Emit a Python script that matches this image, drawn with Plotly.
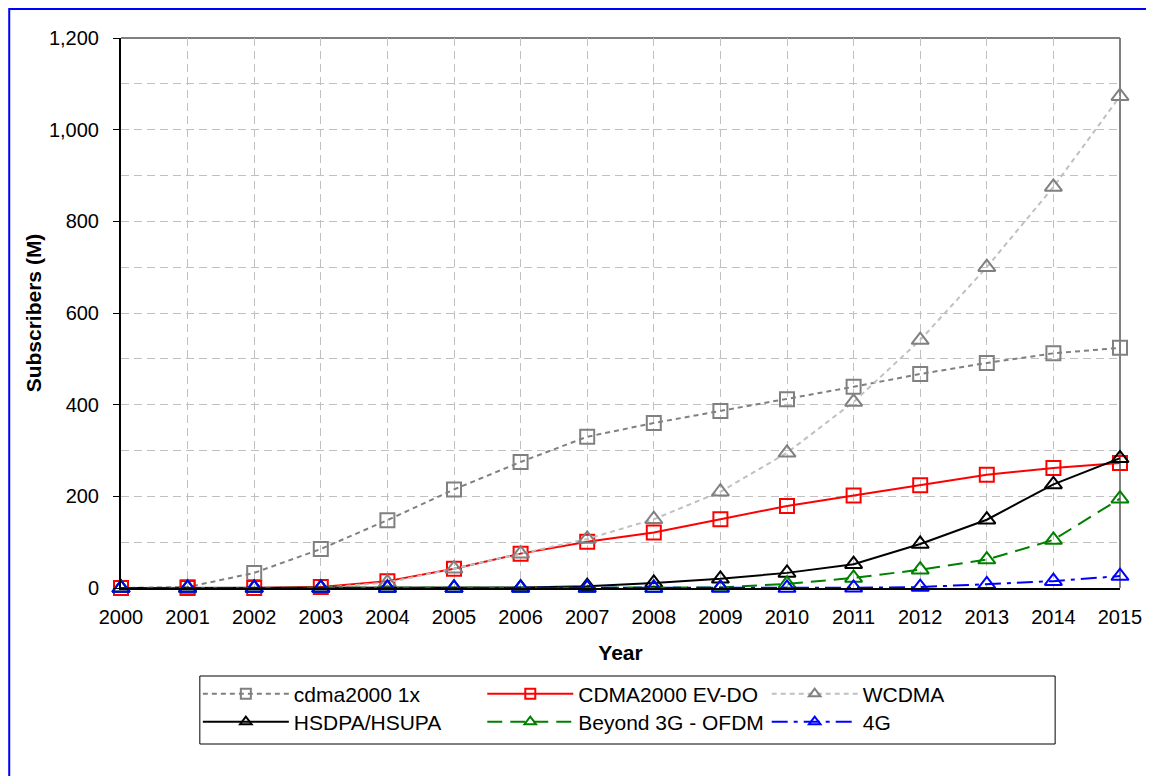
import plotly.graph_objects as go

years = list(range(2000, 2016))
cdma_1x = [0, 2, 33, 85, 148, 215, 275, 330, 360, 386, 412, 439, 467, 491, 512, 524]
cdma_evdo = [0, 0, 0, 2, 15, 42, 75, 101, 121, 150, 179, 202, 224, 247, 262, 273]
wcdma = [0, 0, 0, 0, 12, 42, 75, 107, 150, 210, 295, 406, 541, 700, 875, 1073]
hsdpa = [0, 0, 0, 0, 0, 0, 1, 4, 11, 20, 33, 52, 96, 149, 226, 283]
beyond3g = [0, 0, 0, 0, 0, 0, 0, 0, 0, 1, 9, 22, 40, 62, 105, 195]
g4 = [0, 0, 0, 0, 0, 0, 0, 0, 0, 0, 0, 0.5, 2, 8, 15, 26]

names = ["cdma2000 1x", "CDMA2000 EV-DO", "WCDMA", "HSDPA/HSUPA", "Beyond 3G - OFDM", "4G"]
series = [cdma_1x, cdma_evdo, wcdma, hsdpa, beyond3g, g4]
line_colors = ["#808080", "#FF0000", "#C0C0C0", "#000000", "#008000", "#0000FF"]
marker_colors = ["#808080", "#FF0000", "#808080", "#000000", "#008000", "#0000FF"]
dashes = ["5px,4px", "solid", "5px,4px", "solid", "15px,8px", "16px,6px,4px,6px"]
symbols = ["square-open", "square-open", "triangle-up-open", "triangle-up-open",
           "triangle-up-open", "triangle-up-open"]
msizes = [14, 14, 15, 15, 15, 15]

FONT = "Liberation Sans, Arial, sans-serif"

# page geometry (the page body has an 8px margin)
OFF = 8
L, R, T, B = 121, 1122, 38, 588
pw, ph = R - L, B - T
FW, FH = 1154 - OFF, 776 - OFF


def px_x(p):
    return (p - L) / pw


def px_y(p):
    return (B - p) / ph


fig = go.Figure()
for name, vals, lc, mc, d, s, ms in zip(names, series, line_colors, marker_colors, dashes, symbols, msizes):
    fig.add_trace(go.Scatter(
        x=years, y=vals, name=name, mode="lines+markers", showlegend=False,
        line=dict(color=lc, width=2, dash=d),
        marker=dict(symbol=s, size=ms, color=mc, line=dict(color=mc, width=2)),
        cliponaxis=False,
    ))

# legend entries (one legend per entry, placed in a 3x2 grid)
leg_ids = ["legend", "legend2", "legend3", "legend4", "legend5", "legend6"]
text_x = [293, 578, 863, 293, 578, 863]
row_y = [694, 694, 694, 722, 722, 722]
ITEMW = 86
legends = {}
for i, (name, lc, mc, d, s) in enumerate(zip(names, line_colors, marker_colors, dashes, symbols)):
    fig.add_trace(go.Scatter(
        x=[None], y=[None], name=name, mode="lines+markers", legend=leg_ids[i],
        line=dict(color=lc, width=2, dash=d),
        marker=dict(symbol=s, size=10, color=mc, line=dict(color=mc, width=2)),
    ))
    legends[leg_ids[i]] = dict(
        x=px_x(text_x[i] - ITEMW - 9), y=px_y(row_y[i]), xanchor="left", yanchor="middle",
        bgcolor="rgba(0,0,0,0)", borderwidth=0, itemwidth=ITEMW,
        font=dict(family=FONT, size=21, color="black"),
    )

GRID = "#C0C0C0"
fig.update_layout(
    width=FW, height=FH,
    margin=dict(l=L - OFF, r=FW - (R - OFF), t=T - OFF, b=FH - (B - OFF)),
    paper_bgcolor="white", plot_bgcolor="white",
    font=dict(family=FONT, size=20, color="black"),
    showlegend=True,
    xaxis=dict(
        range=[2000, 2015], tickmode="array", tickvals=years, ticktext=[str(y) for y in years],
        showgrid=True, gridcolor=GRID, griddash="8px,5px", gridwidth=1,
        showline=True, linecolor="black", linewidth=2,
        ticks="", ticklabelstandoff=10,
        zeroline=False,
        title=dict(text="<b>Year</b>", font=dict(family=FONT, size=21), standoff=18),
        tickfont=dict(family=FONT, size=20),
    ),
    yaxis=dict(
        range=[0, 1200], dtick=200, tickformat=",",
        showgrid=True, gridcolor=GRID, griddash="8px,5px", gridwidth=1,
        minor=dict(dtick=100, showgrid=True, gridcolor=GRID, griddash="8px,5px"),
        showline=True, linecolor="black", linewidth=2,
        ticks="outside", ticklen=6, tickcolor="black", ticklabelstandoff=10,
        zeroline=False,
        title=dict(text="<b>Subscribers (M)</b>", font=dict(family=FONT, size=21), standoff=2),
        tickfont=dict(family=FONT, size=20),
    ),
    shapes=[
        dict(type="line", xref="paper", yref="paper", x0=0, x1=1, y0=1, y1=1,
             line=dict(color="#808080", width=2), layer="below"),
        dict(type="line", xref="paper", yref="paper", x0=1, x1=1, y0=0, y1=1,
             line=dict(color="#808080", width=2), layer="below"),
        dict(type="rect", xref="paper", yref="paper",
             x0=px_x(200), x1=px_x(1057), y0=px_y(676), y1=px_y(744),
             line=dict(color="black", width=1)),
        dict(type="rect", xref="paper", yref="paper",
             x0=px_x(9), x1=px_x(1200), y0=px_y(9), y1=px_y(820),
             line=dict(color="#0000FF", width=2)),
    ],
    **legends,
)

fig.write_html("out.html")
